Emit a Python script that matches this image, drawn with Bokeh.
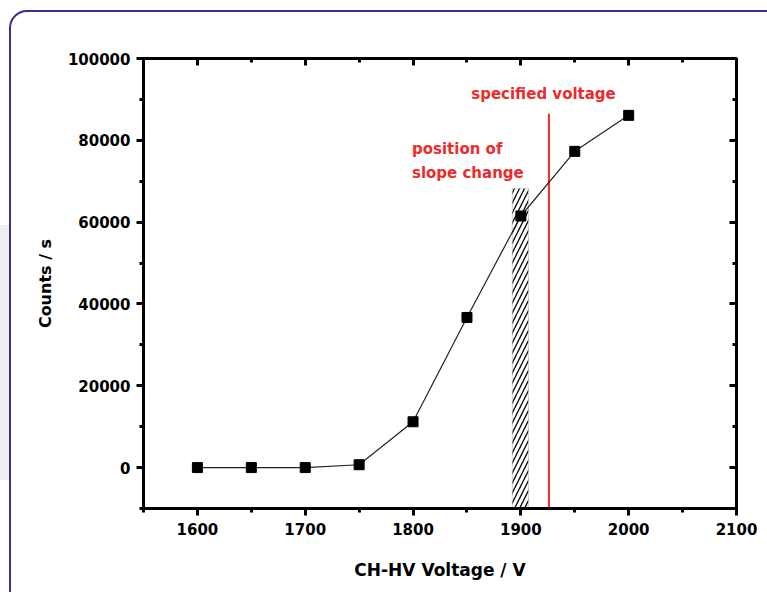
from bokeh.plotting import figure
from bokeh.models import Range1d, FixedTicker, LinearAxis, BasicTickFormatter, InlineStyleSheet
from bokeh.core.properties import value
from bokeh.embed import file_html
from bokeh.resources import INLINE

# ---- data ----
voltage = [1600, 1650, 1700, 1750, 1800, 1850, 1900, 1950, 2000]
counts = [0, 0, 0, 700, 11200, 36700, 61500, 77300, 86100]

x_ticks = [1600, 1700, 1800, 1900, 2000, 2100]
x_minor = [1550, 1650, 1750, 1850, 1950, 2050]
y_ticks = [0, 20000, 40000, 60000, 80000, 100000]
y_minor = [-10000, 10000, 30000, 50000, 70000, 90000]

specified_voltage = [1926]
specified_top = [86500]
slope_left = [1892]
slope_right = [1907]
slope_top = [68200]

label_texts = ["specified voltage", "position of", "slope change"]
label_x = [1921, 1799, 1799]
label_y = [91300, 78000, 72100]

RED = "#ec2b2b"
FONT = "DejaVu Sans"

p = figure(width=767, height=592, output_backend="svg", toolbar_location=None,
           x_range=Range1d(1550, 2100), y_range=Range1d(-10000, 100000),
           min_border_left=143, min_border_right=31, min_border_top=58,
           min_border_bottom=84, x_axis_label="CH-HV Voltage / V",
           y_axis_label="Counts / s")
p.grid.visible = False
p.outline_line_color = "black"
p.outline_line_width = 3
p.background_fill_color = "white"
p.border_fill_color = "white"

xt = FixedTicker(ticks=x_ticks, minor_ticks=x_minor)
yt = FixedTicker(ticks=y_ticks, minor_ticks=y_minor)

def style(ax, ticker, inward, show_labels):
    ax.ticker = ticker
    ax.axis_line_width = 3
    ax.axis_line_color = "black"
    ax.major_tick_line_width = 3
    ax.minor_tick_line_width = 3
    if inward:
        ax.major_tick_in, ax.major_tick_out = 7, 0
        ax.minor_tick_in, ax.minor_tick_out = 4, 0
    else:
        ax.major_tick_in, ax.major_tick_out = 0, 7
        ax.minor_tick_in, ax.minor_tick_out = 0, 4
    ax.major_label_text_font = FONT
    ax.major_label_text_font_style = "bold"
    if show_labels:
        ax.major_label_text_color = "black"
        ax.major_label_text_font_size = "15px"
    else:
        ax.major_label_text_color = None
        ax.major_label_text_font_size = "1px"
        ax.major_label_standoff = 0
    ax.axis_label_text_font = FONT
    ax.axis_label_text_font_style = "bold"
    ax.axis_label_text_color = "black"

style(p.xaxis[0], xt, False, True)
style(p.yaxis[0], yt, False, True)
p.yaxis[0].formatter = BasicTickFormatter(use_scientific=False)
p.xaxis[0].major_label_standoff = 7
p.yaxis[0].major_label_standoff = 6
p.xaxis[0].axis_label_text_font_size = "17px"
p.yaxis[0].axis_label_text_font_size = "16px"
p.xaxis[0].axis_label_standoff = 22
p.yaxis[0].axis_label_standoff = 10

top_ax = LinearAxis()
style(top_ax, xt, True, False)
p.add_layout(top_ax, "above")
right_ax = LinearAxis()
style(right_ax, yt, True, False)
p.add_layout(right_ax, "right")

# hatched region: position of slope change
p.quad(left=slope_left, right=slope_right, bottom=-12000, top=slope_top,
       fill_color=None, line_color="#aaaaaa", line_width=0.5,
       hatch_pattern="/", hatch_color="black", hatch_weight=1.3, hatch_scale=10)

# specified voltage line
p.segment(x0=specified_voltage, x1=specified_voltage, y0=[-12000], y1=specified_top,
          line_color=RED, line_width=2)

# data
p.line(voltage, counts, line_color="#222222", line_width=1.2)
p.scatter(voltage, counts, marker="square", size=10, fill_color="black", line_color="black")

p.text(x=label_x[:1], y=label_y[:1], text=label_texts[:1], text_color=RED,
       text_font=value(FONT), text_font_style="bold", text_font_size="15px",
       text_align="center", text_baseline="middle")
p.text(x=label_x[1:], y=label_y[1:], text=label_texts[1:], text_color=RED,
       text_font=value(FONT), text_font_style="bold", text_font_size="15px",
       text_align="left", text_baseline="middle")

# rounded slide frame and faint decoration around the chart (pure CSS decoration)
css = """
:host { position: relative; overflow: hidden; }
:host::after {
  content: ""; position: absolute; left: 9px; top: 10px; width: 840px; height: 700px;
  border: 2px solid #3f3096; border-radius: 18px; box-sizing: border-box;
  pointer-events: none; z-index: 20;
}
:host::before {
  content: ""; position: absolute; left: 0px; top: 225px; width: 9px; height: 255px;
  background: #eeeef3; pointer-events: none; z-index: 19;
}
"""
p.stylesheets = [InlineStyleSheet(css=css)]

open("out.html", "w").write(file_html(p, INLINE))
